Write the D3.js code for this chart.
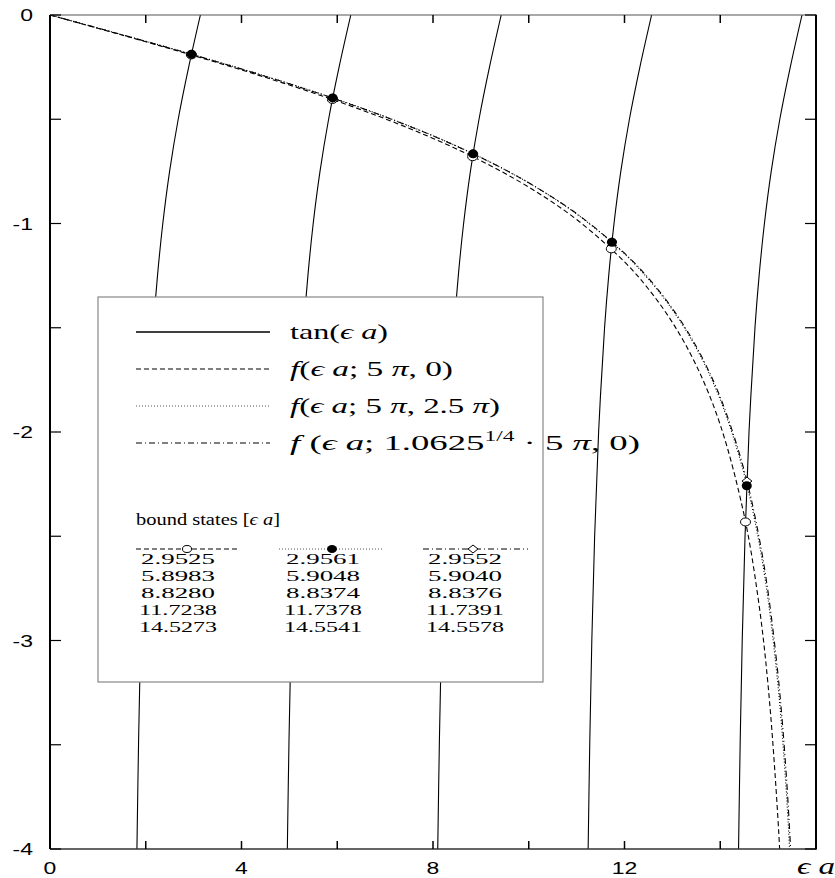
<!DOCTYPE html>
<html>
<head>
<meta charset="utf-8">
<script src="https://cdn.jsdelivr.net/npm/d3@7"></script>
<style>
  body { margin: 0; background: #fff; }
  text { fill: #000; }
</style>
</head>
<body>
<div id="container"></div>
<script>
// tan(εa) branches: shared y levels, x read per branch
const tanY = [0, -0.25, -0.5, -0.75, -1, -1.25, -1.5, -2, -2.5, -3, -3.5, -4];
const tanX1 = [3.1416, 2.8966, 2.6779, 2.4981, 2.3562, 2.2455, 2.1588, 2.0344, 1.9513, 1.8925, 1.8491, 1.8158];
const tanX2 = [6.2832, 6.0382, 5.8195, 5.6397, 5.4978, 5.3871, 5.3004, 5.1760, 5.0929, 5.0341, 4.9907, 4.9574];
const tanX3 = [9.4248, 9.1798, 8.9611, 8.7813, 8.6394, 8.5287, 8.4420, 8.3176, 8.2345, 8.1757, 8.1323, 8.0990];
const tanX4 = [12.5664, 12.3214, 12.1027, 11.9229, 11.7810, 11.6703, 11.5836, 11.4592, 11.3761, 11.3173, 11.2739, 11.2406];
const tanX5 = [15.7080, 15.4630, 15.2443, 15.0645, 14.9226, 14.8119, 14.7252, 14.6008, 14.5177, 14.4589, 14.4155, 14.3822];

// f curves on a shared εa grid
const fX = [0, 1, 2, 3, 4, 5, 6, 7, 8, 9, 10, 11, 12, 12.5, 13, 13.5, 14, 14.5, 14.8, 15, 15.2, 15.3, 15.4, 15.5];
const fDashed = [0, -0.0638, -0.1284, -0.1946, -0.2633, -0.3358, -0.4133, -0.4978, -0.5918, -0.6991, -0.8255, -0.9810, -1.1839, -1.3141, -1.4744, -1.6811, -1.9654, -2.4004, -2.8120, -3.2171, -3.8362, -4.3017, -4.9755, -6.0830];
const fDotted = [0, -0.0625, -0.1257, -0.1905, -0.2580, -0.3290, -0.4049, -0.4875, -0.5790, -0.6831, -0.8053, -0.9542, -1.1457, -1.2666, -1.4134, -1.5982, -1.8447, -2.2023, -2.5175, -2.8048, -3.2002, -3.4639, -3.7982, -4.2422];
const fDashDot = [0, -0.0628, -0.1264, -0.1915, -0.2591, -0.3302, -0.4061, -0.4885, -0.5799, -0.6836, -0.8050, -0.9526, -1.1424, -1.2621, -1.4073, -1.5901, -1.8330, -2.1839, -2.4912, -2.7695, -3.1493, -3.4005, -3.7160, -4.1301];

// bound states (εa) and where they sit on tan(εa)
const statesDashed = [2.9525, 5.8983, 8.8280, 11.7238, 14.5273];
const statesDashedY = [-0.1914, -0.4052, -0.6795, -1.1215, -2.4314];
const statesDotted = [2.9561, 5.9048, 8.8374, 11.7378, 14.5541];
const statesDottedY = [-0.1877, -0.3975, -0.6658, -1.0902, -2.2576];
const statesDashDot = [2.9552, 5.9040, 8.8376, 11.7391, 14.5578];
const statesDashDotY = [-0.1886, -0.3985, -0.6655, -1.0874, -2.2355];

const xTicks = [0, 2, 4, 6, 8, 10, 12, 14, 16];
const xTickLabels = ["0", "", "4", "", "8", "", "12", "", ""];
const yTicks = [0, -0.5, -1, -1.5, -2, -2.5, -3, -3.5, -4];
const yTickLabels = ["0", "", "-1", "", "-2", "", "-3", "", "-4"];

const legendLabels = [
  'tan(<tspan font-style="italic">ϵ a</tspan>)',
  '<tspan font-style="italic">f</tspan>(<tspan font-style="italic">ϵ a</tspan>; 5 <tspan font-style="italic">π</tspan>, 0)',
  '<tspan font-style="italic">f</tspan>(<tspan font-style="italic">ϵ a</tspan>; 5 <tspan font-style="italic">π</tspan>, 2.5 <tspan font-style="italic">π</tspan>)',
  '<tspan font-style="italic">f</tspan> (<tspan font-style="italic">ϵ a</tspan>; 1.0625<tspan dy="-9" font-size="14">1/4</tspan><tspan dy="9"> · 5 </tspan><tspan font-style="italic">π</tspan>, 0)'
];

const w = 835;
const h = 878;
const svg = d3.select("#container")
  .append("svg")
  .attr("width", w)
  .attr("height", h);

const xScale = d3.scaleLinear().domain([0, 16]).range([50, 816]);
const yScale = d3.scaleLinear().domain([0, -4]).range([15, 849]);

svg.append("clipPath")
  .attr("id", "plot-clip")
  .append("rect")
  .attr("x", 50).attr("y", 15)
  .attr("width", 766).attr("height", 834);

const plot = svg.append("g").attr("clip-path", "url(#plot-clip)");

// stretch text horizontally like the original bitmap
function widen(sel, k) {
  sel.each(function () {
    const len = this.getComputedTextLength();
    if (len > 0) {
      d3.select(this).attr("textLength", len * k).attr("lengthAdjust", "spacingAndGlyphs");
    }
  });
}

const tanLine = d3.line()
  .x((d) => xScale(d[0]))
  .y((d) => yScale(d[1]))
  .curve(d3.curveCatmullRom);

[tanX1, tanX2, tanX3, tanX4, tanX5].forEach((xs) => {
  plot.append("path")
    .datum(xs.map((x, i) => [x, tanY[i]]))
    .attr("d", tanLine)
    .attr("fill", "none")
    .attr("stroke", "#000")
    .attr("stroke-width", 1.1);
});

const curves = [
  { ys: fDashed, dash: "5,3" },
  { ys: fDotted, dash: "1,2" },
  { ys: fDashDot, dash: "6,3,1,3" }
];
curves.forEach((c) => {
  plot.append("path")
    .datum(fX.map((x, i) => [x, c.ys[i]]))
    .attr("d", tanLine)
    .attr("fill", "none")
    .attr("stroke", "#000")
    .attr("stroke-width", 1.1)
    .attr("stroke-dasharray", c.dash);
});

function diamond(g, cx, cy) {
  g.append("path")
    .attr("d", `M${cx - 5},${cy} L${cx},${cy - 4} L${cx + 5},${cy} L${cx},${cy + 4} Z`)
    .attr("fill", "#fff")
    .attr("stroke", "#000")
    .attr("stroke-width", 1);
}

statesDashed.forEach((x, i) => {
  plot.append("ellipse")
    .attr("cx", xScale(x)).attr("cy", yScale(statesDashedY[i]))
    .attr("rx", 5).attr("ry", 4)
    .attr("fill", "#fff").attr("stroke", "#000").attr("stroke-width", 1);
});
statesDashDot.forEach((x, i) => diamond(plot, xScale(x), yScale(statesDashDotY[i])));
statesDotted.forEach((x, i) => {
  plot.append("ellipse")
    .attr("cx", xScale(x)).attr("cy", yScale(statesDottedY[i]))
    .attr("rx", 5).attr("ry", 4.5)
    .attr("fill", "#000");
});

// legend
const legend = svg.append("g");
legend.append("rect")
  .attr("x", 98).attr("y", 297)
  .attr("width", 445).attr("height", 385)
  .attr("fill", "#fff")
  .attr("stroke", "#888")
  .attr("stroke-width", 1.2);

const legendDash = [null, "5,3", "1,2", "6,3,1,3"];
const legendWidths = [98, 163, 210, 350];
legendLabels.forEach((lab, i) => {
  const ly = 332 + i * 37;
  legend.append("line")
    .attr("x1", 136).attr("x2", 270)
    .attr("y1", ly).attr("y2", ly)
    .attr("stroke", i === 2 ? "#555" : "#000")
    .attr("stroke-width", i === 0 ? 1.6 : 1.1)
    .attr("stroke-dasharray", legendDash[i]);
  legend.append("text")
    .attr("x", 290).attr("y", ly + 7)
    .style("font-family", "'Liberation Serif', 'DejaVu Serif', serif")
    .style("font-size", "22px")
    .attr("textLength", legendWidths[i])
    .attr("lengthAdjust", "spacingAndGlyphs")
    .html(lab);
});

legend.append("text")
  .attr("x", 136).attr("y", 525)
  .style("font-family", "'Liberation Serif', 'DejaVu Serif', serif")
  .style("font-size", "17px")
  .attr("textLength", 144)
  .attr("lengthAdjust", "spacingAndGlyphs")
  .html('bound states [<tspan font-style="italic">ϵ a</tspan>]');

const cols = [
  { vals: statesDashed, x1: 136, x2: 239, mx: 187, dash: "5,3", mark: "open" },
  { vals: statesDotted, x1: 279, x2: 382, mx: 332, dash: "1,2", mark: "dot" },
  { vals: statesDashDot, x1: 423, x2: 528, mx: 473, dash: "6,3,1,3", mark: "diamond" }
];
const colCenters = [178, 323, 465];
cols.forEach((c, j) => {
  legend.append("line")
    .attr("x1", c.x1).attr("x2", c.x2)
    .attr("y1", 549).attr("y2", 549)
    .attr("stroke", j === 1 ? "#555" : "#000")
    .attr("stroke-width", 1)
    .attr("stroke-dasharray", c.dash);
  if (c.mark === "open") {
    legend.append("ellipse").attr("cx", c.mx).attr("cy", 549).attr("rx", 4.5).attr("ry", 3.5)
      .attr("fill", "#fff").attr("stroke", "#000");
  } else if (c.mark === "dot") {
    legend.append("ellipse").attr("cx", c.mx).attr("cy", 549).attr("rx", 5).attr("ry", 4)
      .attr("fill", "#000");
  } else {
    diamond(legend, c.mx, 549);
  }
  c.vals.forEach((v, i) => {
    legend.append("text")
      .attr("x", colCenters[j]).attr("y", 564 + i * 17)
      .attr("text-anchor", "middle")
      .style("font-family", "'Liberation Serif', serif")
      .style("font-size", "15px")
      .attr("textLength", v < 10 ? 74 : 78)
      .attr("lengthAdjust", "spacingAndGlyphs")
      .text(v.toFixed(4));
  });
});

// frame and ticks
const frame = svg.append("g");
frame.append("line").attr("x1", 50).attr("x2", 817).attr("y1", 15).attr("y2", 15)
  .attr("stroke", "#555").attr("stroke-width", 1.2);
frame.append("line").attr("x1", 50).attr("x2", 817).attr("y1", 849).attr("y2", 849)
  .attr("stroke", "#333").attr("stroke-width", 1.4);
frame.append("line").attr("x1", 50).attr("x2", 50).attr("y1", 15).attr("y2", 849)
  .attr("stroke", "#000").attr("stroke-width", 2);
frame.append("line").attr("x1", 816).attr("x2", 816).attr("y1", 15).attr("y2", 849)
  .attr("stroke", "#000").attr("stroke-width", 2);

xTicks.forEach((t) => {
  frame.append("line").attr("x1", xScale(t)).attr("x2", xScale(t)).attr("y1", 849).attr("y2", 841)
    .attr("stroke", "#000").attr("stroke-width", 1.5);
  frame.append("line").attr("x1", xScale(t)).attr("x2", xScale(t)).attr("y1", 15).attr("y2", 23)
    .attr("stroke", "#000").attr("stroke-width", 1.5);
});
yTicks.forEach((t) => {
  frame.append("line").attr("x1", 50).attr("x2", 61).attr("y1", yScale(t)).attr("y2", yScale(t))
    .attr("stroke", "#000").attr("stroke-width", 1.2);
  frame.append("line").attr("x1", 805).attr("x2", 816).attr("y1", yScale(t)).attr("y2", yScale(t))
    .attr("stroke", "#000").attr("stroke-width", 1.2);
});

const xLab = frame.selectAll(".xlab")
  .data(xTicks.map((t, i) => [t, xTickLabels[i]]).filter((d) => d[1] !== ""))
  .enter()
  .append("text")
  .attr("class", "xlab")
  .attr("x", (d) => xScale(d[0]))
  .attr("y", 874)
  .attr("text-anchor", "middle")
  .style("font-family", "'Liberation Sans', Arial, sans-serif")
  .style("font-size", "17px")
  .text((d) => d[1]);
widen(xLab, 1.35);

const yLab = frame.selectAll(".ylab")
  .data(yTicks.map((t, i) => [t, yTickLabels[i]]).filter((d) => d[1] !== ""))
  .enter()
  .append("text")
  .attr("class", "ylab")
  .attr("x", 33)
  .attr("y", (d) => yScale(d[0]) + 6)
  .attr("text-anchor", "end")
  .style("font-family", "'Liberation Sans', Arial, sans-serif")
  .style("font-size", "17px")
  .text((d) => d[1]);
widen(yLab, 1.35);

frame.append("text")
  .attr("x", 797).attr("y", 874)
  .style("font-family", "'Liberation Serif', 'DejaVu Serif', serif")
  .style("font-size", "23px")
  .style("font-style", "italic")
  .attr("textLength", 38)
  .attr("lengthAdjust", "spacingAndGlyphs")
  .text("ϵ a");
</script>
</body>
</html>
